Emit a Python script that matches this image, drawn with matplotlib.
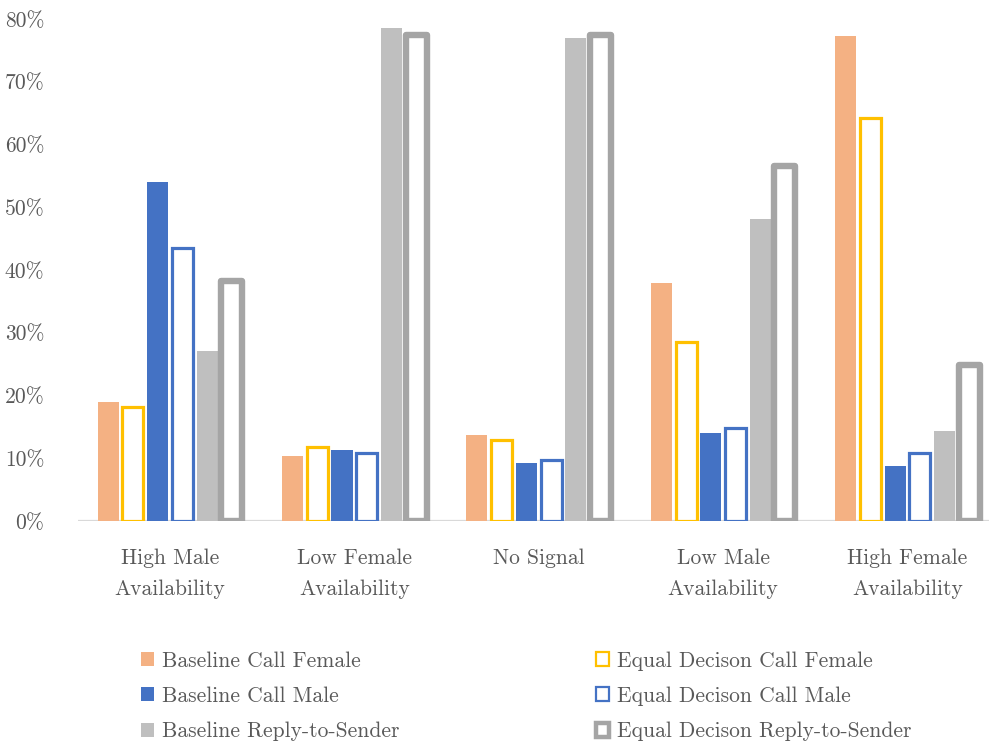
import matplotlib
matplotlib.use("Agg")
import matplotlib.pyplot as plt
from matplotlib.patches import Patch
import numpy as np

plt.rcParams['font.family'] = ['cmr10', 'DejaVu Sans']
plt.rcParams['axes.formatter.use_mathtext'] = True

categories = ["High Male\nAvailability", "Low Female\nAvailability", "No Signal",
              "Low Male\nAvailability", "High Female\nAvailability"]
series_names = ["Baseline Call Female", "Equal Decison Call Female",
                "Baseline Call Male", "Equal Decison Call Male",
                "Baseline Reply-to-Sender", "Equal Decison Reply-to-Sender"]
baseline_call_female = [19.0, 10.3, 13.7, 37.9, 77.3]
equal_call_female = [18.2, 11.8, 12.9, 28.6, 64.2]
baseline_call_male = [54.1, 11.3, 9.2, 14.1, 8.7]
equal_call_male = [43.5, 10.8, 9.7, 14.8, 10.8]
baseline_reply = [27.1, 78.6, 77.0, 48.1, 14.3]
equal_reply = [38.3, 77.4, 77.4, 56.6, 24.9]
ytick_values = [0, 10, 20, 30, 40, 50, 60, 70, 80]
ytick_labels = ["0%", "10%", "20%", "30%", "40%", "50%", "60%", "70%", "80%"]

series = [baseline_call_female, equal_call_female, baseline_call_male,
          equal_call_male, baseline_reply, equal_reply]
colors = ["#F4B183", "#FFC000", "#4472C4", "#4472C4", "#BFBFBF", "#A5A5A5"]
filled = [True, False, True, False, True, False]
lws = [0, 2.3, 0, 2.3, 0, 4.6]

W, H = 989, 742
fig = plt.figure(figsize=(W / 100, H / 100), dpi=100)
ax = fig.add_axes([77.75 / W, 1 - 521 / H, 922 / W, (521 - 19) / H])

x = np.arange(len(categories))
pitch = 0.134
bw = 0.114
for i, (vals, c, f, lw) in enumerate(zip(series, colors, filled, lws)):
    off = (i - 2.5) * pitch
    if f:
        ax.bar(x + off, vals, bw, color=c, linewidth=0, zorder=2)
    else:
        ax.bar(x + off, vals, bw, facecolor="white", edgecolor=c,
               linewidth=lw, zorder=3, joinstyle="round" if lw > 3 else "miter")

ax.axhline(0, color="#D9D9D9", lw=1.6, zorder=1)
ax.set_xlim(-0.5, 4.5)
ax.set_ylim(0, 80)
for s in ax.spines.values():
    s.set_visible(False)
txtc = "#595959"
fs = 15.5
ax.set_yticks(ytick_values)
ax.set_yticklabels(ytick_labels, fontsize=fs, color=txtc)
ax.set_xticks(x)
ax.set_xticklabels(categories, fontsize=fs, color=txtc, linespacing=1.72)
ax.tick_params(axis="y", length=0, pad=24)
ax.tick_params(axis="x", length=0, pad=19.8)

def make_handle(i):
    if filled[i]:
        return Patch(facecolor=colors[i], edgecolor="none")
    lw = 1.6 if i != 5 else 3.2
    return Patch(facecolor="white", edgecolor=colors[i], linewidth=lw,
                 joinstyle="round" if i == 5 else "miter")

col1 = [0, 2, 4]
col2 = [1, 3, 5]
for col, xl in ((col1, 141), (col2, 596)):
    leg = fig.legend([make_handle(i) for i in col], [series_names[i] for i in col],
                     loc="upper left", bbox_to_anchor=(xl / W, 1 - 651 / H),
                     frameon=False, fontsize=fs, borderpad=0, borderaxespad=0,
                     handlelength=0.62, handleheight=0.62, handletextpad=0.35,
                     labelspacing=0.74)
    for t in leg.get_texts():
        t.set_color(txtc)

fig.savefig("out.png", dpi=100)
